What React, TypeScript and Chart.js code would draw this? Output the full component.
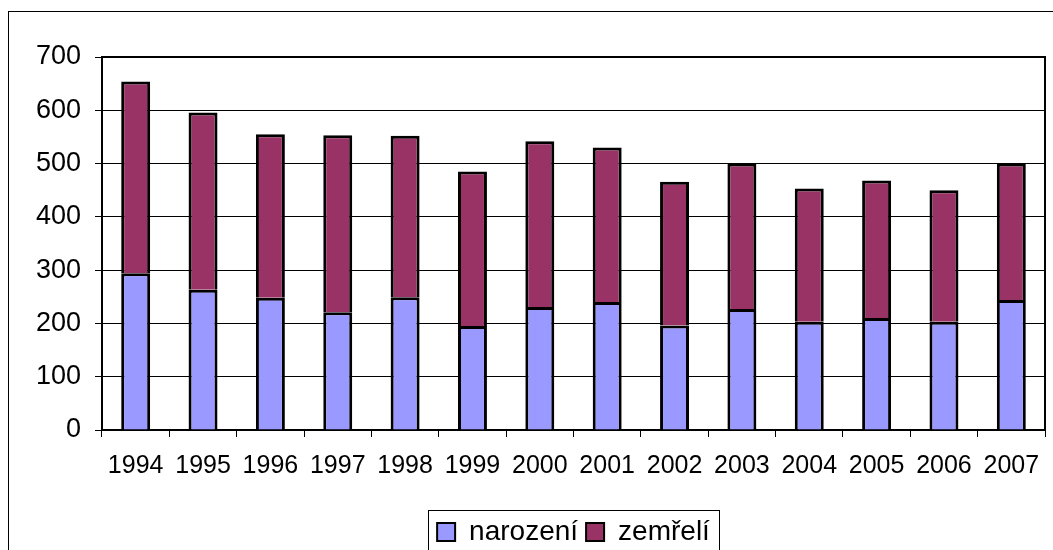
import React, { useEffect, useRef } from "react";
import { Chart, registerables } from "chart.js";

Chart.register(...registerables);

const years = ["1994", "1995", "1996", "1997", "1998", "1999", "2000", "2001", "2002", "2003", "2004", "2005", "2006", "2007"];
const narozeni = [294, 263, 248, 221, 249, 195, 231, 240, 196, 227, 203, 210, 203, 244];
const zemreli = [360, 333, 307, 332, 303, 290, 311, 290, 270, 273, 250, 258, 247, 256];
const seriesNames = ["narození", "zemřelí"];
const yTicks = { min: 0, max: 700, step: 100 };

const FONT = "'Liberation Sans', Arial, sans-serif";

const framePlugin = {
  id: "framePlugin",
  beforeDraw(chart: any) {
    const { ctx, width, height } = chart;
    ctx.save();
    ctx.fillStyle = "#ffffff";
    ctx.fillRect(0, 0, width, height);
    ctx.strokeStyle = "#000";
    ctx.lineWidth = 1;
    ctx.strokeRect(0.5, 0.5, width + 5, height + 5);
    ctx.restore();
  },
  afterDatasetsDraw(chart: any) {
    const { ctx, chartArea } = chart;
    ctx.save();
    ctx.strokeStyle = "#000";
    ctx.lineWidth = 2;
    ctx.beginPath();
    ctx.moveTo(chartArea.left, chartArea.top);
    ctx.lineTo(chartArea.right, chartArea.top);
    ctx.lineTo(chartArea.right, chartArea.bottom);
    ctx.stroke();
    ctx.restore();
  },
  afterDraw(chart: any) {
    const lg = chart.legend;
    if (!lg || !lg.legendHitBoxes || !lg.legendHitBoxes.length) return;
    const hb = lg.legendHitBoxes;
    const pad = 9;
    const left = Math.min(...hb.map((h: any) => h.left)) - pad;
    const right = Math.max(...hb.map((h: any) => h.left + h.width)) + pad;
    const { ctx } = chart;
    ctx.save();
    ctx.strokeStyle = "#000";
    ctx.lineWidth = 1;
    ctx.strokeRect(Math.round(left) + 0.5, Math.round(lg.top) + 0.5, Math.round(right - left), Math.round(lg.bottom - lg.top));
    ctx.restore();
  },
};

export default function App() {
  const ref = useRef<HTMLCanvasElement>(null);
  useEffect(() => {
    if (!ref.current) return;
    const chart = new Chart(ref.current, {
      type: "bar",
      data: {
        labels: years,
        datasets: [
          {
            label: seriesNames[0],
            data: narozeni,
            backgroundColor: "#9999FF",
            borderColor: "#000",
            borderWidth: 3,
            borderSkipped: "start",
            inflateAmount: 0,
            barPercentage: 0.43,
            categoryPercentage: 1,
          },
          {
            label: seriesNames[1],
            data: zemreli,
            backgroundColor: "#993366",
            borderColor: "#000",
            borderWidth: 3,
            borderSkipped: "start",
            inflateAmount: 0,
            barPercentage: 0.43,
            categoryPercentage: 1,
          },
        ],
      },
      options: {
        responsive: false,
        animation: false,
        devicePixelRatio: 1,
        layout: { padding: { left: 0, right: 13, top: 46, bottom: 0 } },
        plugins: {
          tooltip: { enabled: false },
          legend: {
            position: "bottom",
            fullSize: false,
            labels: {
              color: "#000",
              font: { family: FONT, size: 28 },
              boxWidth: 18,
              boxHeight: 18,
              padding: 8,
              generateLabels: (chart: any) =>
                chart.data.datasets.map((ds: any, i: number) => ({
                  text: ds.label,
                  fillStyle: ds.backgroundColor,
                  strokeStyle: "#000",
                  lineWidth: 2,
                  fontColor: "#000",
                  hidden: false,
                  datasetIndex: i,
                })),
            },
          },
        },
        scales: {
          x: {
            stacked: true,
            afterFit: (s: any) => {
              s.height = 80;
            },
            grid: {
              offset: true,
              drawOnChartArea: false,
              drawTicks: true,
              tickLength: 7,
              color: "#000",
            },
            border: { display: true, color: "#000", width: 2 },
            ticks: {
              color: "#000",
              font: { family: FONT, size: 25 },
              padding: 14,
              maxRotation: 0,
              autoSkip: false,
            },
          },
          y: {
            stacked: true,
            min: yTicks.min,
            max: yTicks.max,
            afterFit: (s: any) => {
              s.width = 94;
            },
            grid: {
              color: "#000",
              lineWidth: 1,
              drawTicks: true,
              tickLength: 7,
            },
            border: { display: true, color: "#000", width: 2 },
            ticks: {
              stepSize: yTicks.step,
              color: "#000",
              font: { family: FONT, size: 27 },
              padding: 14,
            },
          },
        },
      },
      plugins: [framePlugin],
    });
    return () => chart.destroy();
  }, []);

  return (
    <div style={{ position: "fixed", left: 0, top: 0, width: 1053, height: 550, overflow: "hidden", background: "#fff" }}>
      <canvas ref={ref} width={1050} height={545} style={{ position: "absolute", left: 8, top: 11 }} />
    </div>
  );
}
